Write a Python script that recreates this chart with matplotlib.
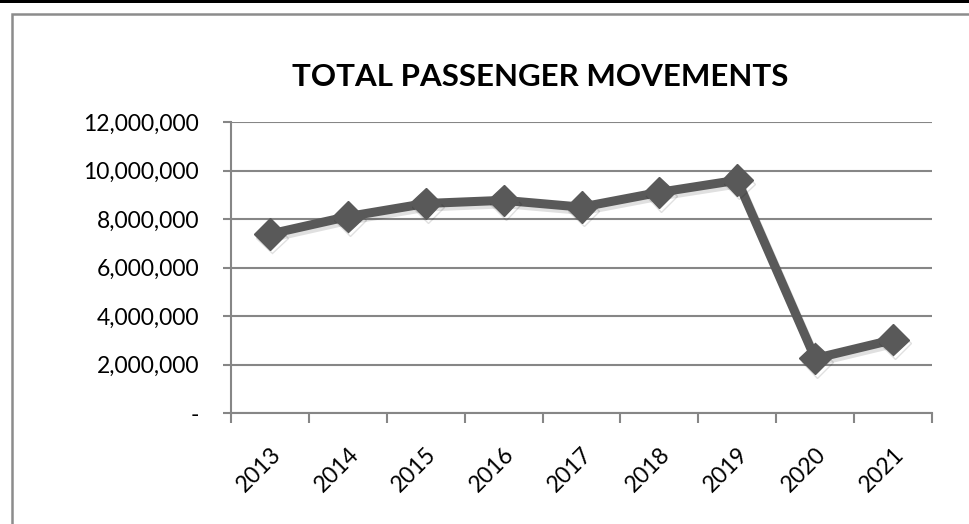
import matplotlib.pyplot as plt
import matplotlib.patheffects as pe
from matplotlib.ticker import FuncFormatter, FixedLocator
from matplotlib.patches import Rectangle
import numpy as np

years = ['2013', '2014', '2015', '2016', '2017', '2018', '2019', '2020', '2021']
passengers = [7380000, 8100000, 8640000, 8770000, 8490000, 9100000, 9600000, 2250000, 3020000]

plt.rcParams['font.family'] = ['Lato', 'DejaVu Sans']

fig = plt.figure(figsize=(9.69, 5.24), dpi=100)
ax = fig.add_axes([231 / 969, 1 - 413 / 524, 701 / 969, 291 / 524])

# frame around the chart and the black bar at the top
fig.patches.append(Rectangle((0, 1 - 3 / 524), 1, 3 / 524, transform=fig.transFigure,
                             facecolor='black', edgecolor='none'))
fig.patches.append(Rectangle((12 / 969, -0.05), 1.1, 1 - 14 / 524 + 0.05, transform=fig.transFigure,
                             facecolor='none', edgecolor='#8c8c8c', linewidth=1.8))

x = np.arange(len(years))
ax.plot(x, passengers, color='#595959', linewidth=6.5, marker='D', markersize=16,
        markerfacecolor='#595959', markeredgecolor='#595959', solid_joinstyle='round',
        path_effects=[pe.SimpleLineShadow(offset=(1.5, -2.5), shadow_color='#000000', alpha=0.12),
                      pe.Normal()], zorder=3)

ax.set_xlim(-0.5, len(years) - 0.5)
ax.set_ylim(0, 12000000)
ax.set_yticks(np.arange(0, 12000001, 2000000))
ax.yaxis.set_major_formatter(FuncFormatter(lambda v, p: '-' if v == 0 else f'{int(v):,}'))
ax.yaxis.grid(True, color='#868686', linewidth=1.5)
ax.set_axisbelow(True)

ax.set_xticks(x)
ax.set_xticklabels(years, rotation=45, ha='right', rotation_mode='anchor')
ax.xaxis.set_minor_locator(FixedLocator(np.arange(-0.5, len(years), 1)))
ax.tick_params(axis='x', which='major', length=0, pad=22, labelsize=16.5)
ax.tick_params(axis='x', which='minor', length=7, width=1.5, color='#868686', direction='out')
ax.tick_params(axis='y', length=6, width=1.5, color='#868686', labelsize=16.5, pad=17)

for s in ['top', 'right']:
    ax.spines[s].set_visible(False)
for s in ['left', 'bottom']:
    ax.spines[s].set_color('#868686')
    ax.spines[s].set_linewidth(1.5)

fig.text(540 / 969, 1 - 77 / 524, 'TOTAL PASSENGER MOVEMENTS', ha='center', va='center',
         fontsize=22.5, fontweight='bold')

fig.savefig('out.png', dpi=100)
